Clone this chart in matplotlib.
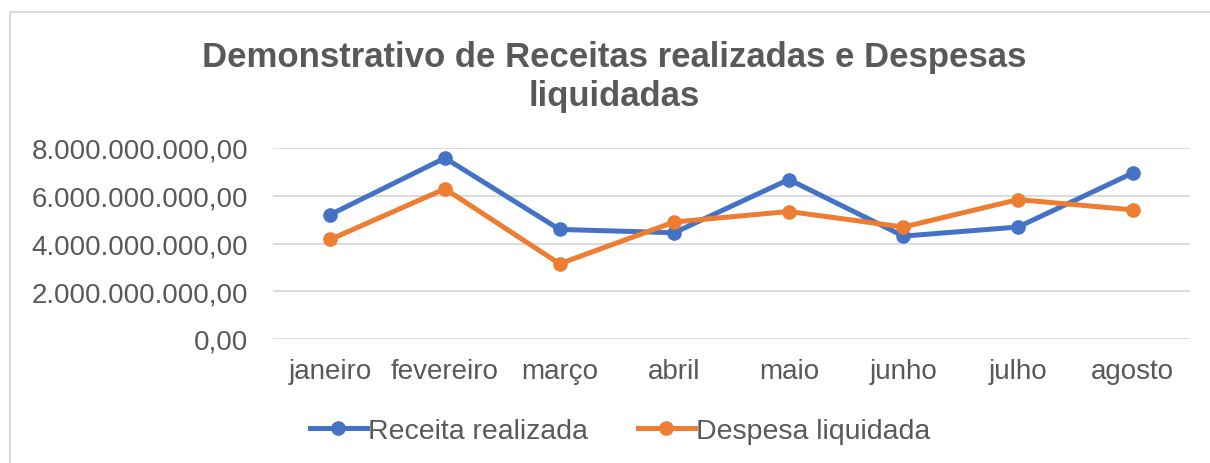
import matplotlib
matplotlib.use("Agg")
import matplotlib.pyplot as plt
from matplotlib.patches import Rectangle
from matplotlib.ticker import FuncFormatter
from matplotlib.lines import Line2D

months = ["janeiro", "fevereiro", "março", "abril", "maio", "junho", "julho", "agosto"]
receita = [5.21e9, 7.58e9, 4.59e9, 4.45e9, 6.68e9, 4.31e9, 4.69e9, 6.95e9]
despesa = [4.17e9, 6.29e9, 3.15e9, 4.90e9, 5.34e9, 4.69e9, 5.84e9, 5.41e9]
y_ticks = [0, 2e9, 4e9, 6e9, 8e9]

title = "Demonstrativo de Receitas realizadas e Despesas\nliquidadas"
label_r = "Receita realizada"
label_d = "Despesa liquidada"

BLUE = "#4472C4"
ORANGE = "#ED7D31"
TXT = "#595959"
GRID = "#D9D9D9"

plt.rcParams['font.family'] = ['Liberation Sans', 'DejaVu Sans']

W, H = 1210, 464
fig = plt.figure(figsize=(W / 100, H / 100), dpi=100)

# chart border
fig.add_artist(Rectangle((10 / W, -0.2), 1.5, 1.2 - 13 / H, transform=fig.transFigure,
                         fill=False, edgecolor="#D9D9D9", linewidth=1.5))

ax = fig.add_axes([273 / W, 1 - 340 / H, (1190 - 273) / W, (340 - 149) / H])
x = list(range(len(months)))
ax.plot(x, receita, color=BLUE, lw=3.6, marker="o", ms=9.5, solid_capstyle="round", zorder=3)
ax.plot(x, despesa, color=ORANGE, lw=3.6, marker="o", ms=9.5, solid_capstyle="round", zorder=3)

ax.set_xlim(-0.5, len(months) - 0.5)
ax.set_ylim(0, 8e9)
ax.set_yticks(y_ticks)

def fmt(v, pos):
    s = f"{v:,.2f}"
    return s.replace(",", "X").replace(".", ",").replace("X", ".")

ax.yaxis.set_major_formatter(FuncFormatter(fmt))
ax.set_xticks(x)
ax.set_xticklabels(months)
ax.grid(axis="y", color=GRID, lw=1.3)
ax.set_axisbelow(True)
for s in ax.spines.values():
    s.set_visible(False)
ax.tick_params(axis="both", length=0, labelsize=20, labelcolor=TXT)
ax.tick_params(axis="y", pad=18)
ax.tick_params(axis="x", pad=14)

fig.text(0.508, 1 - 41 / H, title, ha="center", va="top", fontsize=25, fontweight="bold",
         color=TXT, linespacing=1.22)

handles = [Line2D([], [], color=BLUE, lw=3.6, marker="o", ms=9.5),
           Line2D([], [], color=ORANGE, lw=3.6, marker="o", ms=9.5)]
fig.legend(handles, [label_r, label_d], loc="center", bbox_to_anchor=(620 / W, 1 - 432 / H),
           ncol=2, frameon=False, fontsize=20.5, labelcolor=TXT, handlelength=2.0,
           handletextpad=0.05, columnspacing=1.75)

fig.savefig("out.png", dpi=100)
